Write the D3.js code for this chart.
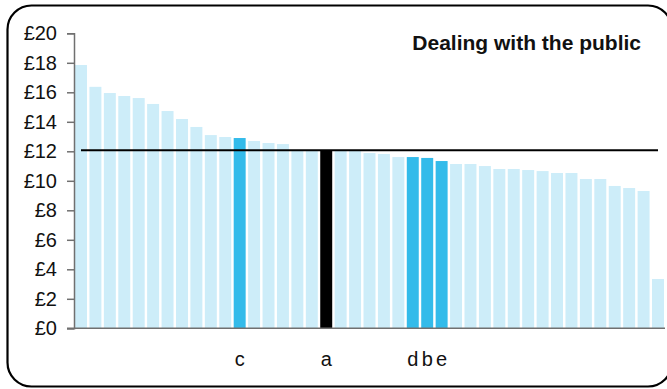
<!DOCTYPE html>
<html lang="en">
<head>
  <meta charset="UTF-8">
  <title>Dealing with the public</title>
  <style>
    body { margin: 0; background: #fff; }
    text { font-family: "Liberation Sans", Arial, sans-serif; fill: #111; }
    .title { font-weight: bold; }
  </style>
</head>
<body>
  <div id="chart"></div>
  <script src="https://d3js.org/d3.v7.min.js"></script>
  <script>
    // hourly pay per organisation, sorted high to low
    const values = [17.85, 16.37, 15.95, 15.75, 15.61, 15.21, 14.73, 14.19, 13.65, 13.10,
                    12.97, 12.90, 12.70, 12.56, 12.49, 12.08, 12.08, 12.07, 12.02, 12.02,
                    11.88, 11.82, 11.61, 11.61, 11.55, 11.34, 11.14, 11.14, 11.00, 10.80,
                    10.80, 10.73, 10.66, 10.53, 10.53, 10.12, 10.12, 9.65, 9.51, 9.31, 3.34];
    // x labels, only a few are named
    const labels = values.map(() => "");
    labels[11] = "c"; labels[17] = "a"; labels[23] = "d"; labels[24] = "b"; labels[25] = "e";
    // which bars are highlighted
    const kinds = values.map(() => "other");
    kinds[11] = "hi"; kinds[23] = "hi"; kinds[24] = "hi"; kinds[25] = "hi";
    kinds[17] = "self";
    const average = 12.07;
    const yTicks = [0, 2, 4, 6, 8, 10, 12, 14, 16, 18, 20];

    const width = 667, height = 389;
    const svg = d3.select("#chart").append("svg")
      .attr("width", width).attr("height", height);

    // outer frame (right edge runs just past the picture)
    svg.append("rect")
      .attr("x", 7.5).attr("y", 5.5)
      .attr("width", 664.5).attr("height", 381)
      .attr("rx", 24).attr("ry", 24)
      .attr("fill", "none").attr("stroke", "#000").attr("stroke-width", 2.2);

    const x = d3.scaleBand()
      .domain(d3.range(values.length))
      .range([74, 665])
      .paddingInner(0.17)
      .paddingOuter(0.07);
    const y = d3.scaleLinear().domain([0, 20]).range([328.3, 33.3]);

    const colour = { other: "#cdedf9", hi: "#33bbea", self: "#000" };

    svg.append("g").selectAll("rect")
      .data(values)
      .join("rect")
      .attr("x", (d, i) => x(i))
      .attr("y", d => y(d))
      .attr("width", x.bandwidth())
      .attr("height", d => y(0) - y(d))
      .attr("fill", (d, i) => colour[kinds[i]]);

    // average line across categories
    const line = d3.line()
      .x((d, i) => x(i) + x.bandwidth() / 2)
      .y(() => y(average));
    svg.append("path")
      .datum(values)
      .attr("d", line)
      .attr("fill", "none")
      .attr("stroke", "#000")
      .attr("stroke-width", 2);

    // y axis
    const yAxis = svg.append("g")
      .attr("transform", "translate(74,0)")
      .call(d3.axisLeft(y).tickValues(yTicks).tickFormat(d => "£" + d).tickSize(7).tickPadding(10));
    yAxis.selectAll("path, line").attr("stroke", "#707070").attr("stroke-width", 1.5);
    yAxis.selectAll("text").style("font-size", "20px").attr("fill", "#111");

    // x axis labels
    const xAxis = svg.append("g")
      .attr("transform", `translate(0,${y(0)})`)
      .call(d3.axisBottom(x).tickFormat(i => labels[i]).tickSize(0).tickPadding(24));
    xAxis.select(".domain").remove();
    xAxis.selectAll("text").style("font-size", "20px").attr("fill", "#111");

    svg.append("line")
      .attr("x1", 67).attr("x2", 665)
      .attr("y1", y(0)).attr("y2", y(0))
      .attr("stroke", "#707070").attr("stroke-width", 1.5);

    svg.append("text")
      .attr("class", "title")
      .attr("x", 641).attr("y", 50)
      .attr("text-anchor", "end")
      .style("font-size", "21px")
      .text("Dealing with the public");
  </script>
</body>
</html>
